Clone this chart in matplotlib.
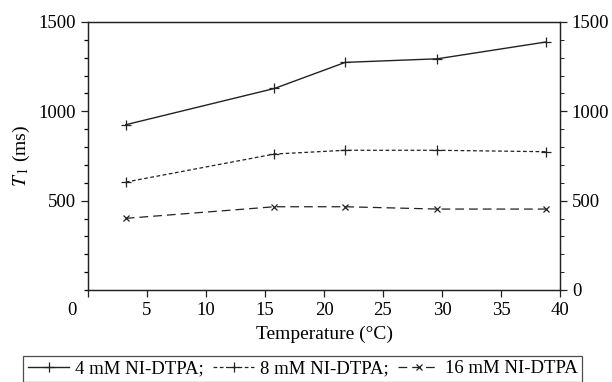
import matplotlib
matplotlib.use('Agg')
import matplotlib.pyplot as plt
from matplotlib.ticker import MultipleLocator

plt.rcParams['font.family'] = 'Liberation Serif'
plt.rcParams['mathtext.fontset'] = 'stix'

temps = [3.2, 15.8, 21.8, 29.6, 38.8]
t1_4mm = [925, 1128, 1274, 1294, 1388]
t1_8mm = [604, 761, 782, 782, 774]
t1_16mm = [401, 466, 466, 453, 453]
labels = ['4 mM NI-DTPA;', '8 mM NI-DTPA;', '16 mM NI-DTPA']
xticks = [0, 5, 10, 15, 20, 25, 30, 35, 40]

fs = 13.5
fig = plt.figure(figsize=(6.12, 3.82), dpi=100)
ax = fig.add_axes([88/612, 1 - 290/382, 472/612, 268/382])

c = '#222222'
l1, = ax.plot(temps, t1_4mm, '-', color=c, lw=1.0, marker='+', ms=7, mew=0.9)
l2, = ax.plot(temps, t1_8mm, color=c, lw=0.9, ls=(0, (3, 2)), marker='+', ms=7, mew=0.9)
l3, = ax.plot(temps, t1_16mm, color=c, lw=0.9, ls=(0, (7, 4)), marker='x', ms=4.5, mew=0.9)

ax.set_xlim(0, 40)
ax.set_ylim(0, 1500)
ax.set_xticks(xticks)
# the "0" label sits left of the corner, drawn separately
ax.set_xticklabels([''] + [str(v) for v in xticks[1:]])
ax.annotate('0', xy=(0, 0), xycoords='axes fraction', xytext=(-11.5, -8.5),
            textcoords='offset points', ha='center', va='top', fontsize=fs)
ax.set_yticks([500, 1000, 1500])
ax.yaxis.set_minor_locator(MultipleLocator(100))
ax.tick_params(axis='both', direction='out', labelsize=fs, color=c, width=0.9)
ax.tick_params(which='major', length=5)
ax.tick_params(which='minor', length=3, width=0.9)

ax2 = ax.twinx()
ax2.set_ylim(0, 1500)
ax2.set_yticks([0, 500, 1000, 1500])
ax2.yaxis.set_minor_locator(MultipleLocator(100))
ax2.tick_params(direction='out', labelsize=fs, color=c, width=0.9)
ax2.tick_params(which='major', length=5)
ax2.tick_params(which='minor', length=3)

for a in (ax, ax2):
    for s in a.spines.values():
        s.set_linewidth(0.9)
        s.set_color(c)

ax.set_xlabel('Temperature (°C)', fontsize=14, labelpad=5)
ax.set_ylabel('$T_{\\,1}$ (ms)', fontsize=14, labelpad=5)

leg = fig.legend([l1, l2, l3], labels, loc='lower center', bbox_to_anchor=(0.495, -0.025),
                 ncol=3, frameon=True, fancybox=False, fontsize=fs,
                 handlelength=2.2, handletextpad=0.3, columnspacing=0.5,
                 borderpad=0.25, edgecolor=c)
leg.get_frame().set_linewidth(0.9)

fig.savefig('out.png', dpi=100)
